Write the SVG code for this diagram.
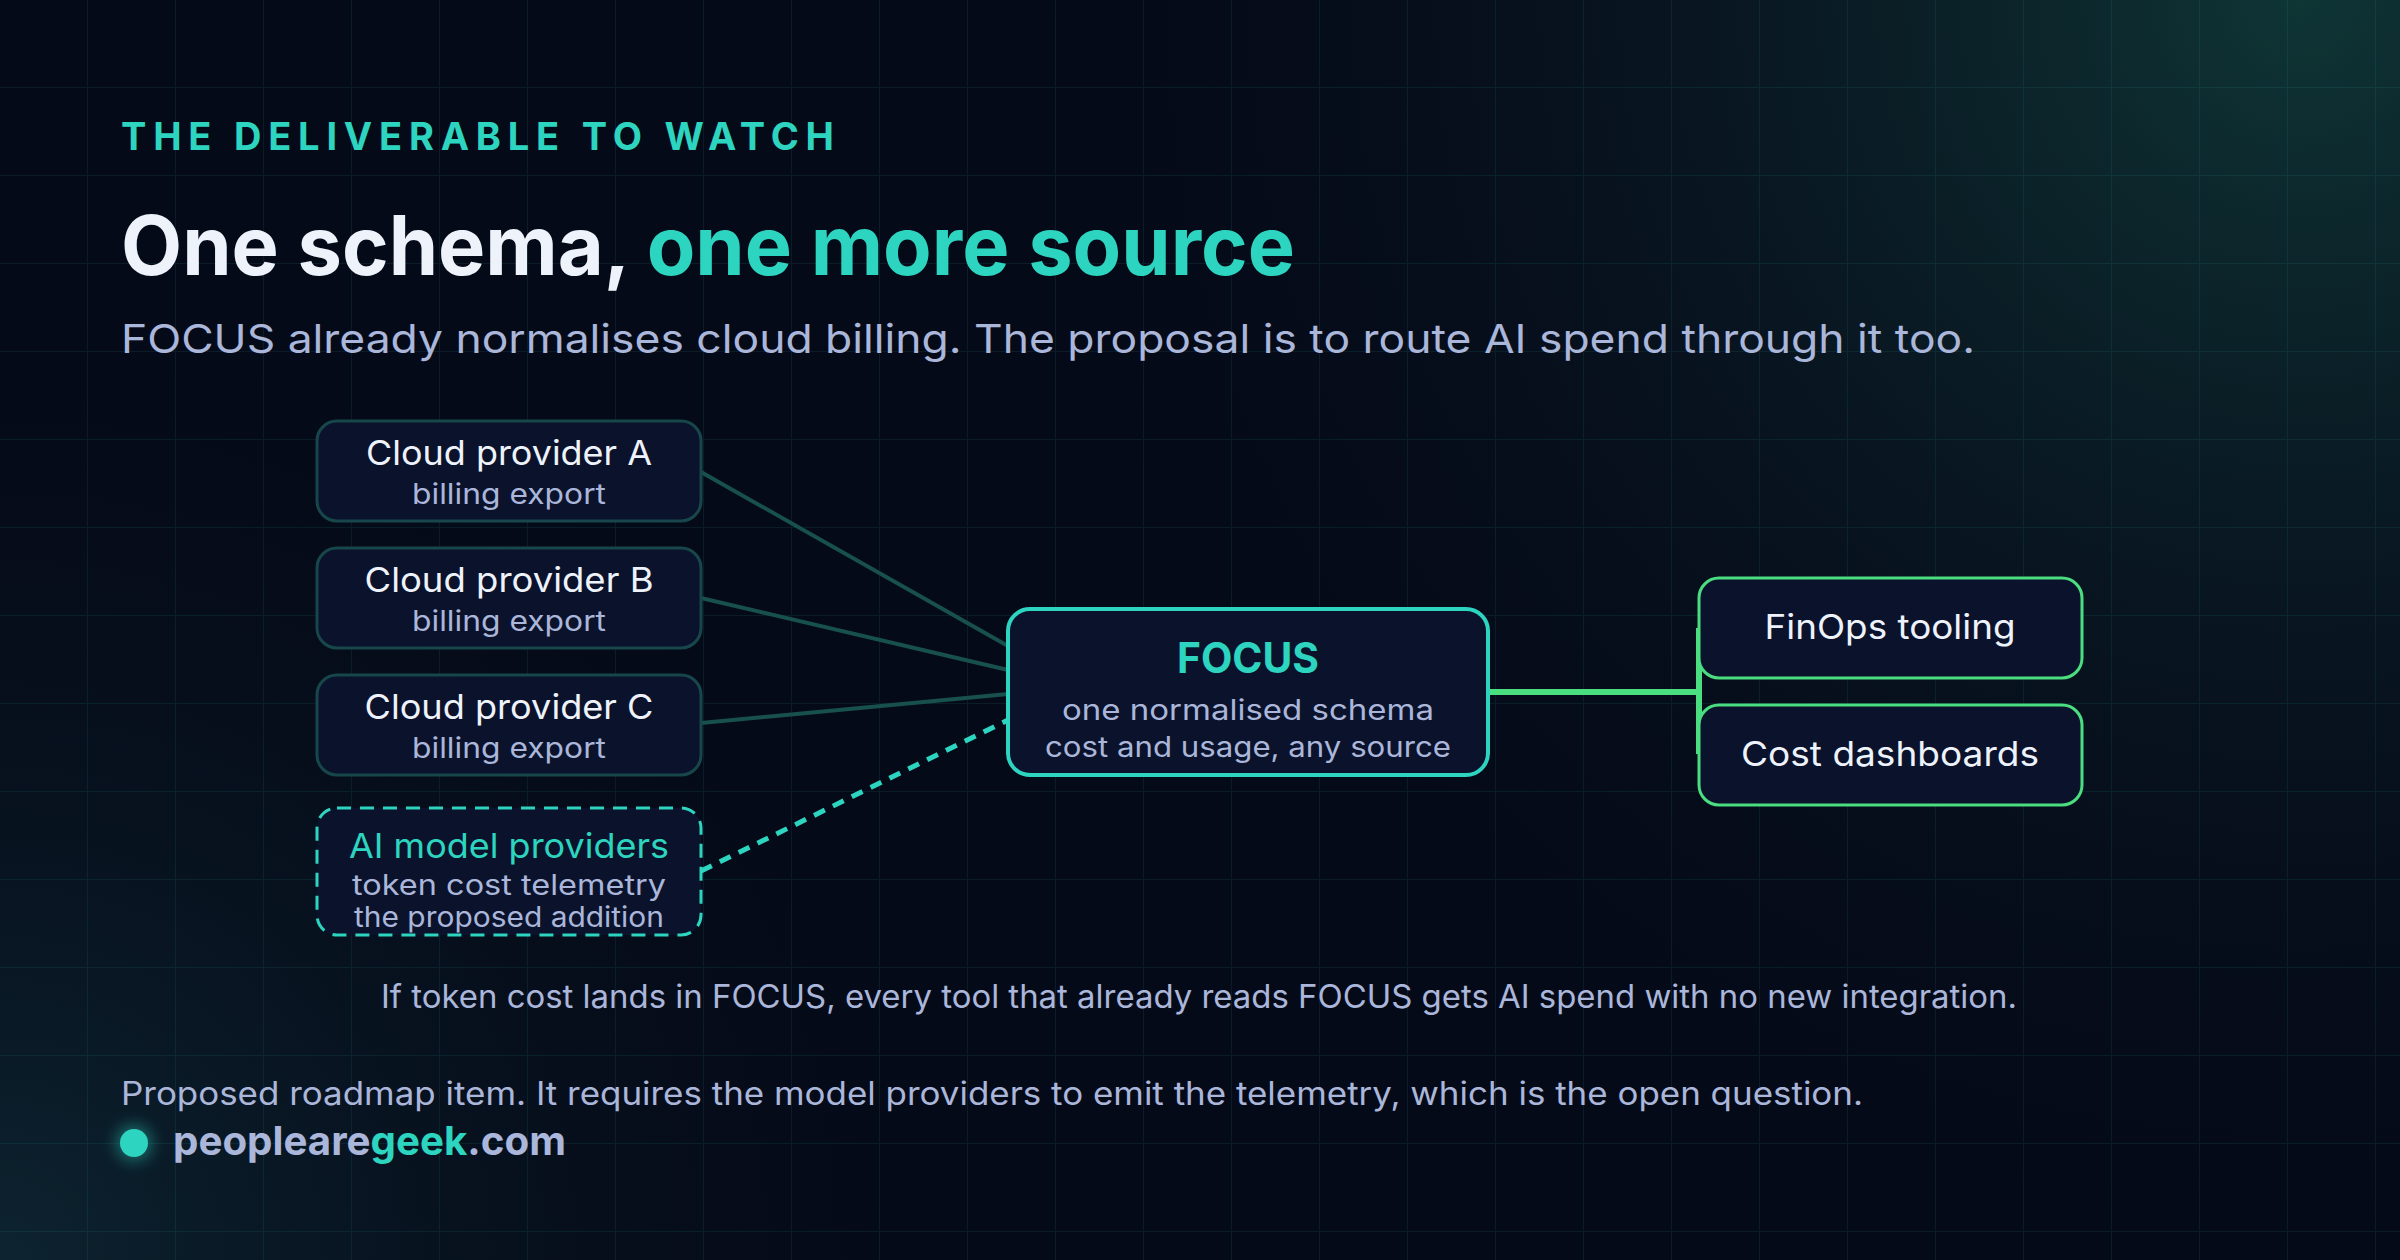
<svg xmlns="http://www.w3.org/2000/svg" width="2400" height="1260" viewBox="0 0 2400 1260">
  <defs>
    <radialGradient id="glowTR" cx="2300" cy="0" r="1300" gradientUnits="userSpaceOnUse">
      <stop offset="0" stop-color="#0f3535" stop-opacity="1"/>
      <stop offset="0.45" stop-color="#0b1f27" stop-opacity="0.6"/>
      <stop offset="1" stop-color="#050a18" stop-opacity="0"/>
    </radialGradient>
    <radialGradient id="glowBL" cx="0" cy="1260" r="1000" gradientUnits="userSpaceOnUse">
      <stop offset="0" stop-color="#0d2430" stop-opacity="1"/>
      <stop offset="1" stop-color="#050a18" stop-opacity="0"/>
    </radialGradient>
    <pattern id="grid" x="0" y="0" width="88" height="88" patternUnits="userSpaceOnUse">
      <path d="M88 0 V88 M0 88 H88" fill="none" stroke="#2dd4bf" stroke-opacity="0.09" stroke-width="2"/>
    </pattern>
    <filter id="dotGlow" x="-2" y="-2" width="5" height="5">
      <feGaussianBlur stdDeviation="8"/>
    </filter>
    <style>
      .sans { font-family: Inter, "Noto Sans", "Liberation Sans", sans-serif; }
      .src rect { fill: #0a132b; stroke: #17474b; stroke-width: 3; }
      .out rect { fill: #0a132b; stroke: #4ade80; stroke-width: 3; }
      .t-main { fill: #eef2fb; font-size: 34px; font-weight: 400; }
      .t-sub { fill: #aab6da; font-size: 28px; }
      .edge { fill: none; stroke: #17504c; stroke-width: 4; }
    </style>
  </defs>

  <!-- background -->
  <rect width="2400" height="1260" fill="#050a18"/>
  <rect width="2400" height="1260" fill="url(#glowTR)"/>
  <rect width="2400" height="1260" fill="url(#glowBL)"/>
  <rect width="2400" height="1260" fill="url(#grid)"/>

  <!-- heading -->
  <text class="sans" x="121" y="150" font-size="38" font-weight="700" fill="#2dd4bf" textLength="713" lengthAdjust="spacing">THE DELIVERABLE TO WATCH</text>
  <text class="sans" x="121" y="275" font-size="82" font-weight="700" fill="#eef2fb" textLength="1174" lengthAdjust="spacingAndGlyphs">One schema, <tspan fill="#2dd4bf">one more source</tspan></text>
  <text class="sans" x="121" y="353" font-size="40" fill="#aab6da" textLength="1854" lengthAdjust="spacingAndGlyphs">FOCUS already normalises cloud billing. The proposal is to route AI spend through it too.</text>

  <!-- connectors -->
  <g id="connectors">
    <path class="edge" d="M701 472 L1008 646"/>
    <path class="edge" d="M701 598 L1008 670"/>
    <path class="edge" d="M701 723 L1008 694"/>
    <path d="M701 871 L1008 720" fill="none" stroke="#2dd4bf" stroke-width="5" stroke-dasharray="12 9"/>
    <path d="M1488 692 H1699" fill="none" stroke="#4ade80" stroke-width="6"/>
    <path d="M1699 628 V754" fill="none" stroke="#4ade80" stroke-width="6"/>
  </g>

  <!-- source nodes -->
  <g id="node-cloud-a" class="src sans">
    <rect x="317" y="421" width="384" height="100" rx="20"/>
    <text class="t-main" x="509" y="465" text-anchor="middle" textLength="286" lengthAdjust="spacingAndGlyphs">Cloud provider A</text>
    <text class="t-sub" x="509" y="504" text-anchor="middle" textLength="194" lengthAdjust="spacingAndGlyphs">billing export</text>
  </g>
  <g id="node-cloud-b" class="src sans">
    <rect x="317" y="548" width="384" height="100" rx="20"/>
    <text class="t-main" x="509" y="592" text-anchor="middle" textLength="289" lengthAdjust="spacingAndGlyphs">Cloud provider B</text>
    <text class="t-sub" x="509" y="631" text-anchor="middle" textLength="194" lengthAdjust="spacingAndGlyphs">billing export</text>
  </g>
  <g id="node-cloud-c" class="src sans">
    <rect x="317" y="675" width="384" height="100" rx="20"/>
    <text class="t-main" x="509" y="719" text-anchor="middle" textLength="289" lengthAdjust="spacingAndGlyphs">Cloud provider C</text>
    <text class="t-sub" x="509" y="758" text-anchor="middle" textLength="194" lengthAdjust="spacingAndGlyphs">billing export</text>
  </g>
  <g id="node-ai" class="sans">
    <rect x="317" y="808" width="384" height="127" rx="20" fill="#0a132b" stroke="#2dd4bf" stroke-width="3" stroke-dasharray="14 9"/>
    <text x="509" y="858" text-anchor="middle" font-size="34" fill="#2dd4bf" textLength="320" lengthAdjust="spacingAndGlyphs">AI model providers</text>
    <text class="t-sub" x="509" y="895" text-anchor="middle" textLength="314" lengthAdjust="spacingAndGlyphs">token cost telemetry</text>
    <text class="t-sub" x="509" y="927" text-anchor="middle" textLength="310" lengthAdjust="spacingAndGlyphs">the proposed addition</text>
  </g>

  <!-- FOCUS hub -->
  <g id="node-focus" class="sans">
    <rect x="1008" y="609" width="480" height="166" rx="22" fill="#0a132b" stroke="#2dd4bf" stroke-width="4"/>
    <text x="1248" y="673" text-anchor="middle" font-size="42" font-weight="700" fill="#2dd4bf" textLength="142" lengthAdjust="spacingAndGlyphs">FOCUS</text>
    <text class="t-sub" x="1248" y="720" text-anchor="middle" font-size="30" textLength="372" lengthAdjust="spacingAndGlyphs">one normalised schema</text>
    <text class="t-sub" x="1248" y="757" text-anchor="middle" font-size="30" textLength="406" lengthAdjust="spacingAndGlyphs">cost and usage, any source</text>
  </g>

  <!-- outputs -->
  <g id="node-finops" class="out sans">
    <rect x="1699" y="578" width="383" height="100" rx="20"/>
    <text class="t-main" x="1890" y="639" text-anchor="middle" textLength="251" lengthAdjust="spacingAndGlyphs">FinOps tooling</text>
  </g>
  <g id="node-dashboards" class="out sans">
    <rect x="1699" y="705" width="383" height="100" rx="20"/>
    <text class="t-main" x="1890" y="766" text-anchor="middle" textLength="298" lengthAdjust="spacingAndGlyphs">Cost dashboards</text>
  </g>

  <!-- footer -->
  <text class="sans" x="1199" y="1008" text-anchor="middle" font-size="32" fill="#aab6da" textLength="1636" lengthAdjust="spacingAndGlyphs">If token cost lands in FOCUS, every tool that already reads FOCUS gets AI spend with no new integration.</text>
  <text class="sans" x="121" y="1105" font-size="32" fill="#aab6da" textLength="1742" lengthAdjust="spacingAndGlyphs">Proposed roadmap item. It requires the model providers to emit the telemetry, which is the open question.</text>
  <circle cx="134" cy="1143" r="18" fill="#2dd4bf" opacity="0.45" filter="url(#dotGlow)"/>
  <circle cx="134" cy="1143" r="14" fill="#2dd4bf"/>
  <text class="sans" x="173" y="1155" font-size="40" font-weight="700" fill="#aab6da" textLength="393" lengthAdjust="spacingAndGlyphs">peopleare<tspan fill="#2dd4bf">geek</tspan>.com</text>
</svg>
